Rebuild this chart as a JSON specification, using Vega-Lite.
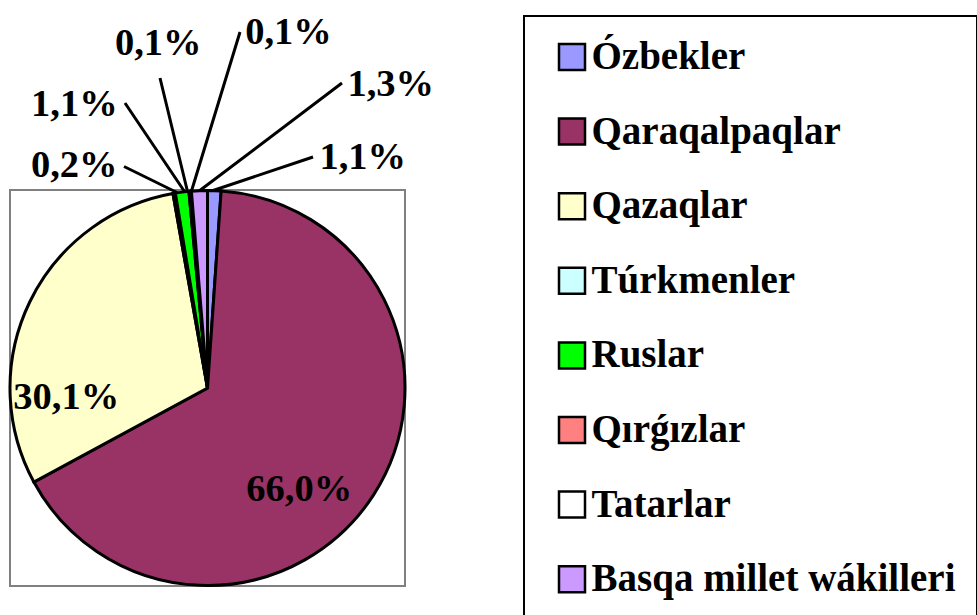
{
  "$schema": "https://vega.github.io/schema/vega-lite/v6.json",
  "width": 395,
  "height": 396,
  "autosize": {"type": "none"},
  "padding": {"left": 10, "top": 190, "right": 572, "bottom": 29},
  "background": "white",
  "view": {"stroke": "#808080", "strokeWidth": 2, "fill": null},
  "config": {
    "view": {"stroke": "#808080", "strokeWidth": 2},
    "font": "Liberation Serif",
    "locale": {"number": {"decimal": ",", "thousands": " ", "grouping": [3], "currency": ["", ""]}},
    "legend": {"strokeWidth": 2}
  },
  "data": {
    "values": [
      {"n": 1, "group": "Ózbekler", "share": 0.011},
      {"n": 2, "group": "Qaraqalpaqlar", "share": 0.660},
      {"n": 3, "group": "Qazaqlar", "share": 0.301},
      {"n": 4, "group": "Túrkmenler", "share": 0.002},
      {"n": 5, "group": "Ruslar", "share": 0.011},
      {"n": 6, "group": "Qırǵızlar", "share": 0.001},
      {"n": 7, "group": "Tatarlar", "share": 0.001},
      {"n": 8, "group": "Basqa millet wákilleri", "share": 0.013}
    ]
  },
  "layer": [
    {
      "transform": [{"filter": "datum.share < 0.02"}],
      "mark": {"type": "arc", "filled": false, "stroke": "black", "strokeWidth": 3, "innerRadius": 0, "xOffset": -18.3, "yOffset": -189.5},
      "encoding": {
        "theta": {"field": "n", "type": "quantitative", "stack": null,
          "scale": {"type": "linear", "zero": false, "nice": false, "domain": [1, 4, 5, 6, 7, 8], "range": [1.24739, -1.11457, -0.59184, -0.23771, 0.29618, 0.92363]}},
        "theta2": {"field": "n"},
        "radius": {"field": "n", "type": "quantitative",
          "scale": {"type": "linear", "zero": false, "nice": false, "domain": [1, 4, 5, 6, 7, 8], "range": [130.6, 72.6, 115.1, 124.0, 174.1, 191.5]}}
      }
    },
    {
      "mark": {"type": "arc", "stroke": "black", "strokeWidth": 3},
      "encoding": {
        "theta": {"field": "share", "type": "quantitative", "stack": true},
        "order": {"field": "n", "type": "quantitative"},
        "color": {
          "field": "group", "type": "nominal",
          "scale": {
            "domain": ["Ózbekler", "Qaraqalpaqlar", "Qazaqlar", "Túrkmenler", "Ruslar", "Qırǵızlar", "Tatarlar", "Basqa millet wákilleri"],
            "range": ["#9999FF", "#993366", "#FFFFCC", "#CCFFFF", "#00FF00", "#FF8080", "#FFFFFF", "#CC99FF"]
          },
          "legend": {
            "orient": "none", "legendX": 514, "legendY": -174, "title": null,
            "symbolType": "square", "symbolSize": 676, "symbolStrokeColor": "black", "symbolStrokeWidth": 2.5, "symbolOpacity": 1,
            "labelFont": "Liberation Serif", "labelFontSize": 39, "labelFontWeight": "bold", "labelColor": "black",
            "labelOffset": 0, "labelLimit": 600, "rowPadding": 34.6, "padding": 21.5, "symbolOffset": 7,
            "strokeColor": "black"
          }
        }
      }
    },
    {
      "mark": {"type": "text", "fontSize": 38.5, "fontWeight": "bold", "font": "Liberation Serif", "align": "center", "baseline": "middle", "color": "black"},
      "encoding": {
        "theta": {"field": "n", "type": "quantitative",
          "scale": {"type": "linear", "zero": false, "nice": false, "domain": [1, 2, 3, 4, 5, 6, 7, 8], "range": [0.59202, 2.40297, 4.64729, -0.53913, -0.43808, -0.14190, 0.22375, 0.54192]}},
        "radius": {"field": "n", "type": "quantitative",
          "scale": {"type": "linear", "zero": false, "nice": false, "domain": [1, 2, 3, 4, 5, 6, 7, 8], "range": [278.1, 136.2, 141.6, 259.6, 313.7, 348.5, 364.9, 355.2]}},
        "text": {"field": "share", "type": "quantitative", "format": ".1%"}
      }
    }
  ],
  "resolve": {"scale": {"theta": "independent", "radius": "independent"}}
}
